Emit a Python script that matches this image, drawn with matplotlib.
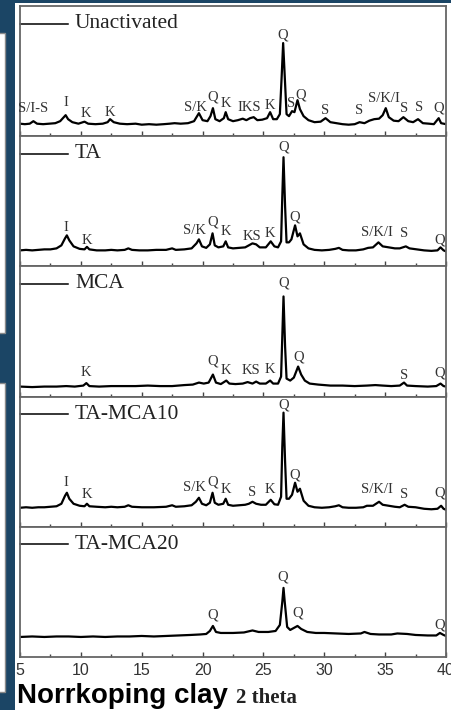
import matplotlib
matplotlib.use("Agg")
import matplotlib.pyplot as plt
from matplotlib.patches import Rectangle
from matplotlib.ticker import MultipleLocator

# XRD patterns, 2 theta (deg) and intensity (a.u.)
unact_x = [5.0, 5.4, 5.8, 6.1, 6.4, 6.9, 7.4, 7.9, 8.3, 8.6, 8.75, 8.95, 9.3, 9.8, 10.3, 10.6, 11.2, 11.8,
           12.2, 12.4, 12.7, 13.2, 13.8, 14.5, 15.0, 15.6, 16.2, 16.8, 17.3, 17.7, 18.2, 18.8, 19.3, 19.7,
           20.0, 20.4, 20.65, 20.85, 21.05, 21.4, 21.75, 21.9, 22.1, 22.5, 22.9, 23.3, 23.6, 23.9, 24.2,
           24.5, 24.9, 25.3, 25.55, 25.8, 26.1, 26.35, 26.5, 26.62, 26.75, 26.9, 27.1, 27.35, 27.55, 27.8,
           28.0, 28.3, 28.7, 29.2, 29.7, 30.1, 30.5, 31.0, 31.5, 32.0, 32.5, 32.9, 33.3, 33.7, 34.1, 34.5,
           34.8, 35.05, 35.3, 35.7, 36.1, 36.5, 36.9, 37.3, 37.7, 38.1, 38.6, 39.0, 39.4, 39.6, 40.0]
unact_y = [12.5, 12, 12.5, 15, 12.5, 12, 12.5, 13, 15, 19, 21, 17, 14, 12.5, 14.5, 12.5, 12, 12.5,
           14, 17, 14, 12.5, 12, 12.5, 11.5, 12, 11.5, 12, 12.5, 13, 12.5, 13, 15, 23,
           16, 15, 20, 28, 17, 15, 18, 24, 17, 15, 16, 17.5, 16, 18, 19,
           16, 16.5, 18, 24, 17, 17, 22, 60, 93, 60, 22, 20, 25, 24, 36,
           27, 20, 16, 14, 14.5, 18, 14, 13, 12, 11.5, 12, 14, 13, 15.5, 17, 17.5,
           21, 28, 19, 15.5, 15, 19, 15, 14, 17, 13, 12.5, 12, 18, 13, 12]

ta_x = [5.0, 5.5, 6.0, 6.5, 7.0, 7.5, 8.0, 8.4, 8.7, 8.85, 9.05, 9.4, 9.9, 10.3, 10.5, 10.7, 11.3, 12.0,
        12.5, 13.0, 13.6, 13.9, 14.2, 14.8, 15.5, 16.2, 17.0, 17.5, 17.8, 18.5, 19.1, 19.5, 19.7, 19.95,
        20.3, 20.6, 20.82, 21.0, 21.3, 21.7, 21.9, 22.1, 22.5, 23.0, 23.5, 23.8, 24.1, 24.4, 24.7, 25.2,
        25.6, 25.9, 26.2, 26.45, 26.55, 26.65, 26.78, 26.9, 27.1, 27.3, 27.6, 27.8, 28.0, 28.3, 28.7,
        29.2, 29.8, 30.4, 30.9, 31.2, 31.5, 32.0, 32.6, 33.2, 33.6, 34.0, 34.45, 34.8, 35.3, 35.8, 36.2,
        36.7, 37.0, 37.6, 38.2, 38.8, 39.3, 39.55, 39.8, 40.0]
ta_y = [16, 16.5, 16, 16.5, 17, 17, 18, 21, 28, 31, 26, 20, 17.5, 17, 19.5, 17, 16, 16,
        16.5, 16, 16.5, 18, 16.5, 16, 16, 16.5, 16.5, 18, 16.5, 17, 18, 23, 27, 20,
        18.5, 22, 33, 21, 19, 20, 25, 19, 18, 18.5, 19, 21, 23, 22, 19, 19,
        25, 20, 19, 25, 70, 109, 60, 24, 24, 27, 41, 30, 33, 22, 18,
        16.5, 16, 16.5, 17.5, 18.5, 16.5, 16, 16, 17, 18.5, 19, 24, 20, 19, 18, 18,
        20, 18, 17, 16, 15.5, 16, 19, 16, 15]

mca_x = [5.0, 6.0, 7.0, 8.0, 8.8, 9.5, 10.2, 10.45, 10.7, 11.5, 12.5, 13.5, 14.5, 15.5, 16.5, 17.5,
         18.5, 19.2, 19.7, 20.1, 20.5, 20.85, 21.1, 21.5, 21.95, 22.2, 22.7, 23.3, 23.7, 24.1, 24.4,
         24.7, 25.2, 25.55, 25.8, 26.2, 26.45, 26.55, 26.65, 26.78, 26.9, 27.2, 27.5, 27.85, 28.1, 28.4,
         28.8, 29.5, 30.5, 31.5, 32.5, 33.5, 34.2, 34.8, 35.5, 36.2, 36.55, 36.8, 37.5, 38.5, 39.2,
         39.55, 39.8, 40.0]
mca_y = [10, 9.5, 10, 10, 10.5, 10, 11, 13.5, 10.5, 10, 10.5, 10.5, 10.5, 11, 10.5, 10.5,
         11.5, 12, 14, 13, 14, 22, 14, 12.5, 16, 13, 12.5, 13, 14.5, 13, 15,
         13, 13, 16, 13, 13, 20, 60, 100, 50, 18, 16, 19, 30, 22, 16,
         13, 12, 11, 11, 10.5, 11, 11.5, 11, 10.5, 11, 14, 11, 10.5, 10, 10.5,
         13, 10.5, 10]

m10_x = [5.0, 5.5, 6.0, 6.5, 7.0, 7.5, 8.0, 8.4, 8.7, 8.85, 9.05, 9.4, 9.9, 10.3, 10.5, 10.7, 11.3, 12.0,
         12.5, 13.0, 13.6, 13.9, 14.2, 15.0, 16.0, 17.0, 17.5, 17.8, 18.5, 19.1, 19.45, 19.7, 19.95,
         20.3, 20.6, 20.82, 21.0, 21.3, 21.7, 21.9, 22.1, 22.5, 23.0, 23.5, 23.8, 24.1, 24.4, 24.8, 25.2,
         25.6, 25.9, 26.2, 26.45, 26.55, 26.65, 26.78, 26.9, 27.1, 27.35, 27.6, 27.8, 28.0, 28.3, 28.7,
         29.2, 29.8, 30.4, 30.9, 31.2, 31.5, 32.0, 32.6, 33.2, 33.5, 34.0, 34.5, 34.8, 35.3, 35.8, 36.2,
         36.6, 36.9, 37.5, 38.2, 38.8, 39.3, 39.6, 39.8, 40.0]
m10_y = [19, 19.5, 19, 19.5, 19.5, 20, 20.5, 23, 31, 34, 28, 23, 21, 20.5, 23, 20.5, 20, 19.5,
         20, 19.5, 20, 21.5, 20, 19.5, 19.5, 20, 21.5, 20, 20.5, 21.5, 25, 29, 23,
         21.5, 24, 34, 24, 22, 23, 28, 22, 21, 21.5, 22, 23, 25, 23, 22, 22,
         27, 22.5, 22, 30, 80, 114, 65, 28, 28, 32, 44, 35, 38, 26, 21,
         19.5, 19, 19.5, 20.5, 21.5, 19.5, 19, 19, 19.5, 21, 21, 25, 22, 21, 20, 19.5,
         22, 20, 19.5, 18, 17.5, 18, 21, 18, 17]

m20_x = [5.0, 6.0, 7.0, 8.0, 9.0, 10.0, 11.0, 12.0, 13.0, 14.0, 15.0, 16.0, 17.0, 18.0, 19.0, 19.8,
         20.3, 20.6, 20.85, 21.1, 21.5, 22.5, 23.4, 24.1, 24.6, 25.4, 26.0, 26.35, 26.55, 26.65, 26.75,
         26.95, 27.2, 27.5, 27.8, 28.1, 28.6, 29.3, 30.0, 31.0, 32.0, 33.0, 33.3, 33.8, 34.5, 35.5, 36.0,
         36.8, 37.5, 38.5, 39.2, 39.5, 39.8, 40.0]
m20_y = [20, 20.5, 20, 20.5, 20.5, 20, 20.5, 20, 20.5, 20.5, 21, 20.5, 21, 21.5, 22, 22.5,
         23, 26, 31, 25, 24, 24, 24.5, 26.5, 25, 25, 26, 32, 55, 69, 55,
         30, 27, 29, 31, 28, 25, 24, 24, 23.5, 23, 23.5, 25, 23, 22.5, 22.5, 23.5,
         23, 22, 21.5, 21.5, 24, 22, 21]

names = ["Unactivated", "TA", "MCA", "TA-MCA10", "TA-MCA20"]
xs = [unact_x, ta_x, mca_x, m10_x, m20_x]
ys = [unact_y, ta_y, mca_y, m10_y, m20_y]

# peak labels: (text, 2 theta, height)
peaks = [
    [("S/I-S", 6.1, 28), ("I", 8.75, 34), ("K", 10.4, 23), ("K", 12.4, 24), ("S/K", 19.4, 29),
     ("Q", 20.8, 39), ("K", 21.9, 33), ("IKS", 23.8, 29),
     ("K", 25.5, 31), ("Q", 26.62, 101), ("S", 27.3, 33), ("Q", 28.1, 41), ("S", 30.1, 26),
     ("S", 32.85, 26), ("S/K/I", 34.9, 38), ("S", 36.55, 28), ("S", 37.8, 29), ("Q", 39.4, 28)],
    [("I", 8.8, 39), ("K", 10.5, 26), ("S/K", 19.3, 36), ("Q", 20.8, 44), ("K", 21.9, 35),
     ("KS", 24.05, 30), ("K", 25.5, 33), ("Q", 26.65, 119), ("Q", 27.6, 49),
     ("S/K/I", 34.35, 34), ("S", 36.6, 33), ("Q", 39.45, 26)],
    [("K", 10.4, 24), ("Q", 20.85, 36), ("K", 21.95, 26), ("KS", 24.0, 26),
     ("K", 25.5, 27), ("Q", 26.65, 113), ("Q", 27.9, 40), ("S", 36.55, 21), ("Q", 39.5, 24)],
    [("I", 8.8, 44), ("K", 10.5, 32), ("S/K", 19.3, 39), ("Q", 20.8, 45), ("K", 21.9, 37),
     ("S", 24.1, 34), ("K", 25.5, 37), ("Q", 26.65, 122), ("Q", 27.6, 52), ("S/K/I", 34.35, 37),
     ("S", 36.6, 32), ("Q", 39.5, 34)],
    [("Q", 20.8, 42), ("Q", 26.6, 80), ("Q", 27.8, 44), ("Q", 39.5, 32)],
]

W, H = 452, 710
fig = plt.figure(figsize=(W / 100, H / 100), dpi=100, facecolor="#1b4565")

# white slide areas behind the chart
fig.patches.append(Rectangle((15 / W, 0), 1, 707 / H, transform=fig.transFigure,
                             facecolor="white", edgecolor="none", zorder=-10))
for top, bot in [(33, 333), (383, 692)]:
    fig.patches.append(Rectangle((-10 / W, 1 - bot / H), 15 / W, (bot - top) / H,
                                 transform=fig.transFigure, facecolor="white",
                                 edgecolor="#8a8a8a", lw=1.0, zorder=-10))

axes = fig.subplots(5, 1, sharex=True, gridspec_kw=dict(hspace=0))
fig.subplots_adjust(left=20 / W, right=446 / W, top=1 - 6 / H, bottom=1 - 657 / H)

serif = ["Liberation Serif", "DejaVu Serif"]
for i, ax in enumerate(axes):
    ax.set_facecolor("white")
    ax.plot(xs[i], ys[i], color="black", lw=1.6, solid_joinstyle="round")
    ax.set_xlim(5, 40)
    ax.set_ylim(0, 130)
    ax.set_yticks([])
    for s in ax.spines.values():
        s.set_color("#666666")
        s.set_linewidth(1.3)
    ax.xaxis.set_major_locator(MultipleLocator(5))
    ax.xaxis.set_minor_locator(MultipleLocator(2.5))
    ax.tick_params(axis="x", which="major", direction="in", length=3.5, width=1.0,
                   color="#444444", top=False, labelsize=11.5, labelcolor="#333333", pad=4)
    ax.tick_params(axis="x", which="minor", direction="in", length=2.5, width=1.0,
                   color="#444444", top=False)
    # legend-like name
    ax.plot([0, 48 / 426], [0.865, 0.865], transform=ax.transAxes, color="black", lw=1.1,
            clip_on=False)
    ax.text(55 / 426, 0.865, names[i], transform=ax.transAxes, va="center", ha="left",
            fontsize=15.5, family=serif, color="#222222")
    for t, px, py in peaks[i]:
        ax.text(px, py, t, ha="center", va="center", fontsize=10.5, family=serif, color="#333333")

for lab in axes[-1].get_xticklabels():
    lab.set_family(["Liberation Sans", "DejaVu Sans"])

fig.text(17 / W, 1 - 703 / H, "Norrkoping clay", ha="left", va="baseline", fontsize=20,
         weight="bold", family=["Liberation Sans", "DejaVu Sans"], color="black")
fig.text(236 / W, 1 - 703 / H, "2 theta", ha="left", va="baseline", fontsize=15,
         weight="bold", family=serif, color="#222222")

fig.savefig("out.png", dpi=100, facecolor=fig.get_facecolor())
